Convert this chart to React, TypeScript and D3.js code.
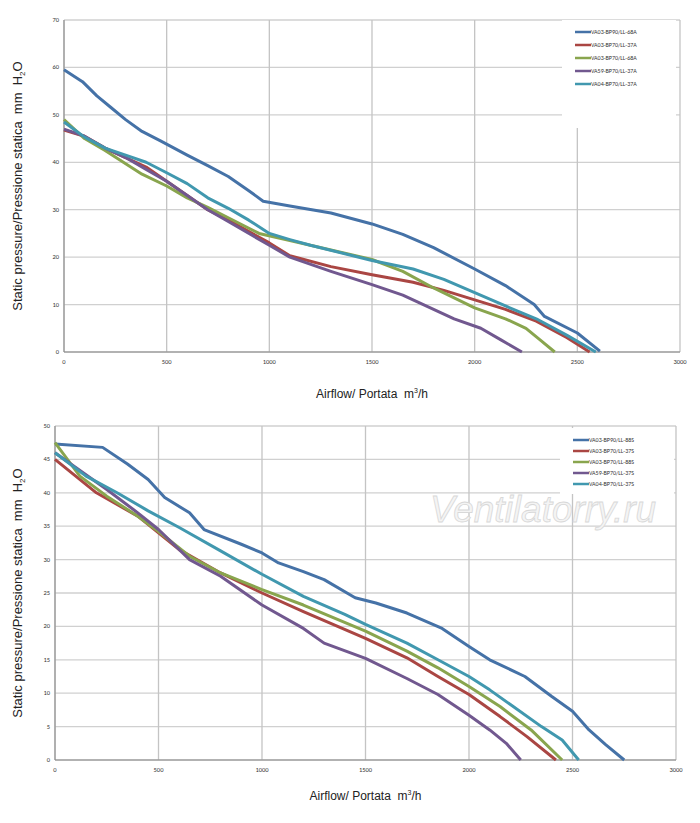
import * as d3 from 'd3';
import * as React from 'react';

const COLORS = ['#4572A7', '#AA4643', '#89A54E', '#71588F', '#4198AF'];

const NAMES_1 = ['VA03-BP90/LL-68A', 'VA03-BP70/LL-37A', 'VA03-BP70/LL-68A', 'VA59-BP70/LL-37A', 'VA04-BP70/LL-37A'];
const NAMES_2 = ['VA03-BP90/LL-88S', 'VA03-BP70/LL-37S', 'VA03-BP70/LL-88S', 'VA59-BP70/LL-37S', 'VA04-BP70/LL-37S'];

type Pt = [number, number];

// chart 1 series [airflow, pressure]
const BP90_68A: Pt[] = [[0, 59.5], [90, 57], [160, 54], [230, 51.5], [300, 49], [380, 46.5], [470, 44.5], [600, 41.5], [700, 39.3], [800, 37], [900, 34], [970, 31.8], [1100, 30.8], [1300, 29.3], [1500, 27], [1650, 24.8], [1800, 22], [2000, 17.5], [2150, 14], [2290, 10], [2340, 7.5], [2500, 4], [2610, 0.2]];
const BP70_37A: Pt[] = [[0, 46.8], [100, 45.5], [200, 43], [300, 41], [400, 39], [500, 36], [600, 33], [700, 30], [800, 27.8], [1000, 23], [1100, 20.3], [1300, 18], [1500, 16.3], [1700, 14.7], [1850, 13], [2000, 11], [2150, 9], [2300, 6.5], [2450, 3], [2560, 0]];
const BP70_68A: Pt[] = [[0, 49], [100, 45], [200, 42.5], [380, 37.5], [500, 35], [600, 32.5], [700, 30.5], [800, 28.3], [950, 25], [1100, 23.5], [1300, 21.5], [1500, 19.5], [1650, 17], [1800, 13.5], [2000, 9.3], [2150, 7], [2250, 5], [2320, 2.5], [2390, 0]];
const VA59_37A: Pt[] = [[0, 47], [100, 45.5], [200, 43], [300, 41], [400, 38.5], [500, 36], [600, 33], [700, 30], [800, 27.5], [1000, 22.5], [1100, 20], [1300, 17], [1500, 14.2], [1650, 12], [1750, 10], [1900, 7], [2030, 5], [2130, 2.5], [2230, 0]];
const VA04_37A: Pt[] = [[0, 48.5], [100, 45.3], [200, 43], [300, 41.5], [400, 40], [500, 37.8], [600, 35.5], [700, 32.5], [800, 30.3], [900, 27.8], [1000, 25], [1100, 23.7], [1200, 22.5], [1500, 19.3], [1700, 17.5], [1850, 15.3], [2000, 12.5], [2150, 9.7], [2300, 7], [2450, 3.5], [2590, 0]];

// chart 2 series
const BP90_88S: Pt[] = [[0, 47.3], [230, 46.8], [350, 44.3], [450, 42], [530, 39.3], [650, 37], [720, 34.5], [900, 32.3], [1000, 31], [1080, 29.5], [1200, 28.2], [1300, 27], [1450, 24.3], [1550, 23.5], [1700, 22], [1870, 19.7], [2000, 17], [2100, 15], [2270, 12.5], [2400, 9.5], [2500, 7.3], [2580, 4.5], [2660, 2.3], [2750, 0]];
const BP70_37S: Pt[] = [[0, 45], [200, 40], [400, 36.5], [500, 34], [600, 31.5], [800, 28], [1000, 25], [1200, 22.2], [1500, 18.2], [1700, 15.3], [1850, 12.5], [2000, 9.8], [2150, 6.5], [2280, 3.5], [2420, 0]];
const BP70_88S: Pt[] = [[0, 47.5], [120, 42.5], [250, 39.5], [400, 36.5], [500, 34.2], [650, 30.5], [800, 28], [1000, 25.5], [1200, 23.2], [1500, 19.3], [1700, 16.3], [1850, 13.8], [2000, 11], [2150, 8], [2300, 4.5], [2450, 0]];
const VA59_37S: Pt[] = [[0, 46], [250, 40.5], [400, 37], [500, 34.5], [650, 30], [800, 27.5], [1000, 23.2], [1200, 19.7], [1300, 17.5], [1500, 15.2], [1700, 12.2], [1850, 9.8], [2000, 6.7], [2100, 4.5], [2180, 2.5], [2250, 0]];
const VA04_37S: Pt[] = [[0, 46], [150, 42.5], [300, 40], [450, 37.3], [600, 34.8], [800, 31.3], [1000, 27.8], [1200, 24.5], [1400, 21.8], [1500, 20.3], [1700, 17.5], [1850, 15], [2000, 12.5], [2100, 10.5], [2200, 8.3], [2350, 5], [2450, 3], [2530, 0]];

const X_TICKS = [0, 500, 1000, 1500, 2000, 2500, 3000];
const Y_TICKS_1 = [0, 10, 20, 30, 40, 50, 60, 70];
const Y_TICKS_2 = [0, 5, 10, 15, 20, 25, 30, 35, 40, 45, 50];

interface ChartProps {
  top: number;
  left: number;
  right: number;
  bottom: number;
  yMax: number;
  yTicks: number[];
  series: Pt[][];
  names: string[];
  legend: { x: number; y: number; w: number; h: number; step: number };
  titleY: number;
}

function Chart({ top, left, right, bottom, yMax, yTicks, series, names, legend, titleY }: ChartProps) {
  const x = d3.scaleLinear().domain([0, 3000]).range([left, right]);
  const y = d3.scaleLinear().domain([0, yMax]).range([bottom, top]);
  const line = d3.line<Pt>().x(d => x(d[0])).y(d => y(d[1]));
  const font = 'Calibri, Carlito, "Liberation Sans", Arial, sans-serif';
  const midY = (top + bottom) / 2;
  return (
    <g>
      {yTicks.map(t => (
        <g key={'y' + t}>
          <line x1={left} x2={right} y1={y(t)} y2={y(t)} stroke="#d0d0d0" strokeWidth={1.3} />
          <text x={left - 5} y={y(t) + 2} fontSize={6.5} textAnchor="end" fill="#333" fontFamily={font}>{t}</text>
        </g>
      ))}
      {X_TICKS.map(t => (
        <g key={'x' + t}>
          <line x1={x(t)} x2={x(t)} y1={top} y2={bottom} stroke="#c4c4c4" strokeWidth={1.3} />
          <text x={x(t)} y={bottom + 12} fontSize={6.5} textAnchor="middle" fill="#333" fontFamily={font}>{t}</text>
        </g>
      ))}
      <line x1={left} x2={left} y1={top} y2={bottom} stroke="#888" />
      <line x1={left} x2={right} y1={bottom} y2={bottom} stroke="#888" />
      <rect x={legend.x} y={legend.y} width={legend.w} height={legend.h} fill="#fff" />
      {series.map((s, i) => (
        <path key={i} d={line(s) ?? ''} fill="none" stroke={COLORS[i]} strokeWidth={3} strokeLinejoin="round" />
      ))}
      {names.map((n, i) => {
        const ly = legend.y + 12 + i * legend.step;
        return (
          <g key={n}>
            <line x1={legend.x + 13} x2={legend.x + 29} y1={ly} y2={ly} stroke={COLORS[i]} strokeWidth={2.5} />
            <text x={legend.x + 29} y={ly + 2} fontSize={6} fill="#333" fontFamily={font}>{n}</text>
          </g>
        );
      })}
      <text transform={`translate(22,${midY}) rotate(-90)`} textAnchor="middle" fontSize={13} fill="#222"
        fontFamily='"Liberation Sans", Arial, sans-serif' style={{ whiteSpace: 'pre' }}>
        {'Static pressure/Pressione statica  mm  H'}<tspan fontSize={8} dy={3}>2</tspan><tspan dy={-3}>O</tspan>
      </text>
      <text x={(left + right) / 2} y={titleY} textAnchor="middle" fontSize={12} fill="#222"
        fontFamily='"Liberation Sans", Arial, sans-serif' style={{ whiteSpace: 'pre' }}>
        {'Airflow/ Portata  m'}<tspan fontSize={7} dy={-5}>3</tspan><tspan dy={5}>/h</tspan>
      </text>
    </g>
  );
}

export default function App() {
  return (
    <svg width={700} height={823} style={{ position: 'absolute', left: 0, top: 0, background: '#fff' }}>
      <Chart top={20} left={64} right={680} bottom={352} yMax={70} yTicks={Y_TICKS_1}
        series={[BP90_68A, BP70_37A, BP70_68A, VA59_37A, VA04_37A]} names={NAMES_1}
        legend={{ x: 562, y: 20, w: 114, h: 108, step: 13 }} titleY={398} />
      <Chart top={426} left={55} right={676} bottom={760} yMax={50} yTicks={Y_TICKS_2}
        series={[BP90_88S, BP70_37S, BP70_88S, VA59_37S, VA04_37S]} names={NAMES_2}
        legend={{ x: 560, y: 428, w: 114, h: 66, step: 11 }} titleY={800} />
      <text x={543} y={522} textAnchor="middle" fontSize={37} fontStyle="italic" fill="#f4f4f4" stroke="#d8d8d8" strokeWidth={0.8} fontFamily='"Liberation Sans", Arial, sans-serif'>
        Ventilatorry.ru
      </text>
    </svg>
  );
}
